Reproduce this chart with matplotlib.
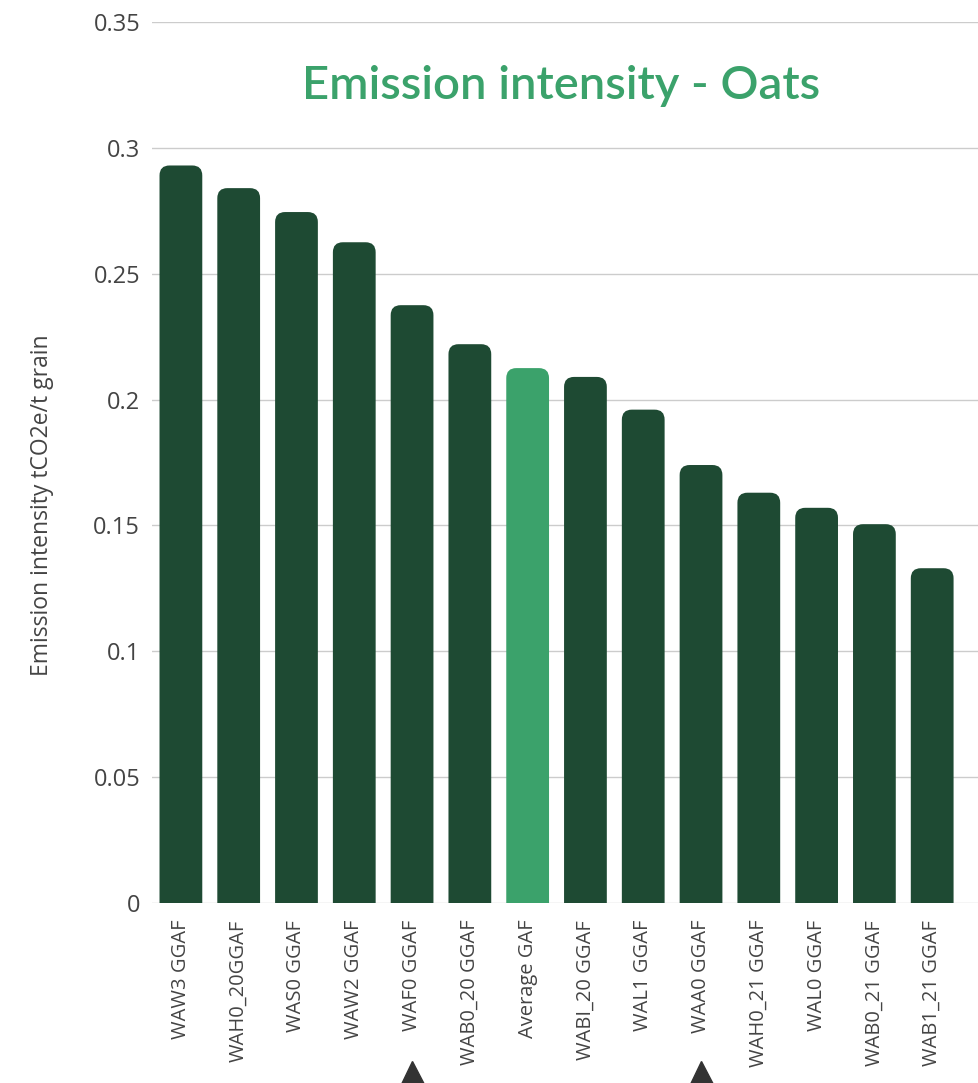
import matplotlib.pyplot as plt
from matplotlib.patches import FancyBboxPatch

# site codes and emission intensity (tCO2e / t grain)
sites = ["WAW3 GGAF", "WAH0_20GGAF", "WAS0 GGAF", "WAW2 GGAF", "WAF0 GGAF",
         "WAB0_20 GGAF", "Average GAF", "WABI_20 GGAF", "WAL1 GGAF", "WAA0 GGAF",
         "WAH0_21 GGAF", "WAL0 GGAF", "WAB0_21 GGAF", "WAB1_21 GGAF"]
intensity = [0.293, 0.284, 0.2745, 0.2625, 0.2375, 0.222, 0.2125,
             0.209, 0.196, 0.174, 0.163, 0.157, 0.1505, 0.133]
flagged = ["WAF0 GGAF", "WAA0 GGAF"]

DARK = "#1e4a33"
LIGHT = "#3ba26b"
TXT = "#444444"

plt.rcParams["font.family"] = ["Open Sans", "DejaVu Sans"]

fig = plt.figure(figsize=(9.79, 10.83), dpi=100)
ax = fig.add_axes([152 / 979, 180 / 1083, 827 / 979, 881 / 1083])

x = list(range(len(sites)))
ax.set_xlim(-0.5, 13.81)
ax.set_ylim(0, 0.35)

# rounded-top bars: round box extended below zero, bottom gets clipped by the axes
width = 0.74
xpx = (13.81 + 0.5) / 827
ypx = 0.35 / 881
radius = 10 * xpx
for xi, name, val in zip(x, sites, intensity):
    col = LIGHT if name.startswith("Average") else DARK
    box = FancyBboxPatch((xi - width / 2, -0.01), width, val + 0.01,
                         boxstyle=f"round,pad=0,rounding_size={radius}",
                         mutation_aspect=ypx / xpx,
                         facecolor=col, edgecolor="none", zorder=3)
    ax.add_patch(box)

ax.set_yticks([0, 0.05, 0.1, 0.15, 0.2, 0.25, 0.3, 0.35])
ax.set_yticklabels(["0", "0.05", "0.1", "0.15", "0.2", "0.25", "0.3", "0.35"])
ax.grid(axis="y", color="#cccccc", linewidth=1.0, zorder=0)
ax.set_xticks(x)
ax.set_xticklabels(sites, rotation=90)

for s in ax.spines.values():
    s.set_visible(False)

ax.tick_params(axis="y", length=0, labelcolor=TXT, labelsize=17, pad=8.5)
ax.tick_params(axis="x", length=0, labelcolor=TXT, labelsize=14.5, pad=12)

ax.set_ylabel("Emission intensity tCO2e/t grain", fontsize=16.5, color=TXT)
ax.yaxis.set_label_coords(-0.119, 0.452)

fig.text(561 / 979, 1 - 86 / 1083, "Emission intensity - Oats", ha="center",
         va="center", fontsize=34, fontweight="semibold", color=LIGHT,
         family=["Lato", "DejaVu Sans"])

# pointer marks under flagged sites
for name in flagged:
    ax.plot(sites.index(name), -0.193, marker="^", markersize=18, color="#333333",
            transform=ax.get_xaxis_transform(), clip_on=False, zorder=5)

fig.savefig("out.png", dpi=100)
